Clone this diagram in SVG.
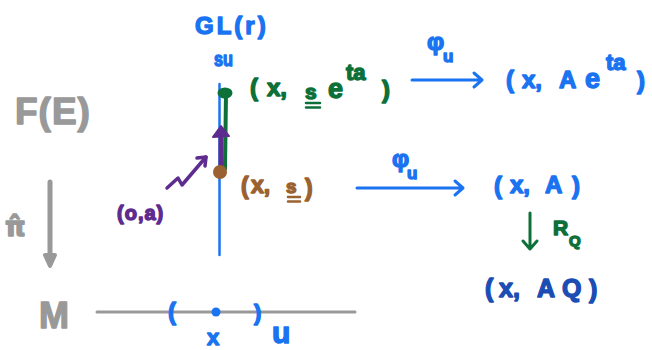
<svg xmlns="http://www.w3.org/2000/svg" width="652" height="350" viewBox="0 0 652 350">
<style>
text{font-family:"Liberation Sans","DejaVu Sans",sans-serif;font-weight:bold;stroke-linejoin:round;stroke-linecap:round}
.blue{fill:#1a73f0;stroke:#1a73f0;stroke-width:1.4}
.green{fill:#0c7038;stroke:#0c7038;stroke-width:1.4}
.purple{fill:#5e2b8f;stroke:#5e2b8f;stroke-width:1.4}
.brown{fill:#9a6230;stroke:#9a6230;stroke-width:1.4}
.gray{fill:#999;stroke:#999;stroke-width:1.4}
.dblue{fill:#1b4db5;stroke:#1b4db5;stroke-width:1.4}
.ln{fill:none;stroke-linecap:round;stroke-linejoin:round}
</style>
<g id="fiber">
<line class="ln" x1="219.5" y1="84" x2="219.5" y2="255" stroke="#1a73f0" stroke-width="2.5"/>
<text class="blue" x="195" y="34" font-size="24" letter-spacing="3">GL(r)</text>
<text class="blue" x="214" y="66" font-size="20" textLength="19" lengthAdjust="spacingAndGlyphs">su</text>
</g>
<g id="FE"><text class="gray" x="15" y="124" font-size="37" letter-spacing="1">F(E)</text></g>
<g id="pihat"><text class="gray" x="5" y="236" font-size="26" style="font-family:'DejaVu Sans',sans-serif">π̂</text></g>
<g id="M"><text class="gray" x="39" y="328" font-size="36">M</text></g>
<g id="base">
<line class="ln" x1="97" y1="312" x2="355" y2="312" stroke="#999" stroke-width="3"/>
<text class="blue" x="168" y="320" font-size="24">(</text>
<circle cx="216" cy="312" r="4.5" fill="#1a73f0"/>
<text class="blue" x="254" y="320" font-size="22">)</text>
<text class="blue" x="207" y="345" font-size="22">x</text>
<text class="blue" x="272" y="343" font-size="30">u</text>
</g>
<g id="points">
<line class="ln" x1="226" y1="93" x2="225" y2="169" stroke="#0c7038" stroke-width="4"/>
<ellipse cx="225" cy="93" rx="7.5" ry="5.5" fill="#0c7038"/>
<line class="ln" x1="221" y1="137" x2="221" y2="168" stroke="#5e2b8f" stroke-width="5"/>
<path d="M213,137 L221,126 L229,136 Z" fill="#5e2b8f" stroke="#5e2b8f" stroke-width="2" stroke-linejoin="round"/>
<circle cx="220" cy="172" r="7" fill="#9a6230"/>
</g>
<g id="connectors">
<path class="ln" d="M167,188 L178,178 L182,185 L206,157" stroke="#5e2b8f" stroke-width="3.5"/>
<path class="ln" d="M197,158 L206,157 L205,166" stroke="#5e2b8f" stroke-width="3.5"/>
<line class="ln" x1="50" y1="182" x2="50" y2="262" stroke="#999" stroke-width="5"/>
<path d="M45,255 L55,255 L50,266 Z" fill="#999" stroke="#999" stroke-width="4" stroke-linejoin="round"/>
<path class="ln" d="M412,80 L482,80 M474,73 L482,80 L474,87" stroke="#1a73f0" stroke-width="3"/>
<path class="ln" d="M357,188 L463,188 M455,181 L463,188 L455,195" stroke="#1a73f0" stroke-width="3"/>
<path class="ln" d="M530,213 L530,249 M523,241 L530,249 L537,241" stroke="#0c7038" stroke-width="3"/>
</g>
<g id="label-phi1"><text class="blue" x="427" y="50" font-size="24">φ<tspan x="443" y="62" font-size="17">u</tspan></text></g>
<g id="label-phi2"><text class="blue" x="392" y="167" font-size="24">φ<tspan x="407" y="179" font-size="17">u</tspan></text></g>
<g id="label-RQ"><text class="green" x="553" y="235" font-size="21">R<tspan x="569" y="246" font-size="15">Q</tspan></text></g>
<g id="node-green">
<text class="green" font-size="24"><tspan x="250" y="96">(</tspan><tspan x="267" y="96">x,</tspan><tspan x="305" y="99" font-size="21">s</tspan><tspan x="328" y="98" font-size="27">e</tspan><tspan x="346" y="80" font-size="22">ta</tspan><tspan x="382" y="98">)</tspan></text>
<path class="ln" d="M306,103 L320,103 M306,107.5 L320,107.5" stroke="#0c7038" stroke-width="2.5"/>
</g>
<g id="node-brown">
<text class="brown" font-size="23"><tspan x="241" y="194">(</tspan><tspan x="251" y="193">x,</tspan><tspan x="286" y="193" font-size="19">s</tspan><tspan x="305" y="196">)</tspan></text>
<path class="ln" d="M288,197 L300,197 M288,201.5 L300,201.5" stroke="#9a6230" stroke-width="2.5"/>
</g>
<g id="node-purple"><text class="purple" x="117" y="220" font-size="20" letter-spacing="1">(o,a)</text></g>
<g id="node-top-right">
<text class="blue" font-size="24"><tspan x="506" y="88">(</tspan><tspan x="522" y="88">x,</tspan><tspan x="559" y="88">A</tspan><tspan x="585" y="88" font-size="27">e</tspan><tspan x="606" y="70" font-size="22">ta</tspan><tspan x="637" y="89">)</tspan></text>
</g>
<g id="node-mid-right">
<text class="blue" font-size="24"><tspan x="494" y="194">(</tspan><tspan x="510" y="193">x,</tspan><tspan x="545" y="193">A</tspan><tspan x="572" y="194">)</tspan></text>
</g>
<g id="node-bottom-right">
<text class="dblue" font-size="25"><tspan x="485" y="297">(</tspan><tspan x="499" y="297">x,</tspan><tspan x="537" y="297">A</tspan><tspan x="562" y="297">Q</tspan><tspan x="589" y="298">)</tspan></text>
</g>
</svg>
